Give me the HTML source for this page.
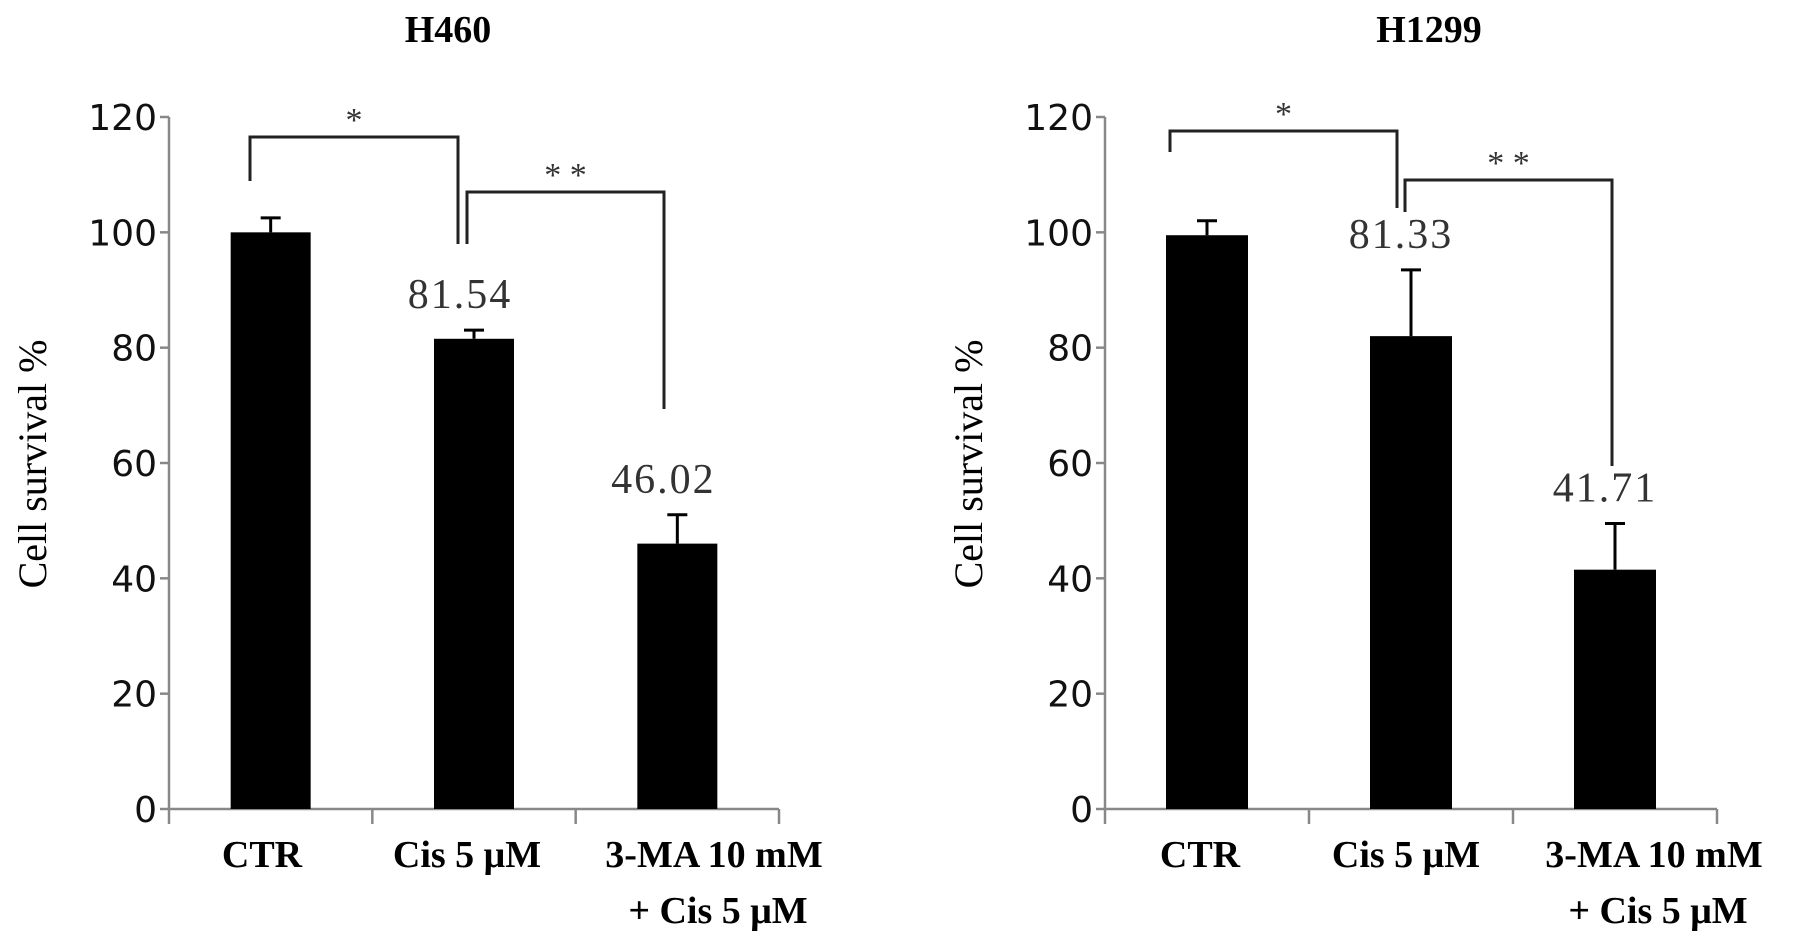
<!DOCTYPE html>
<html><head><meta charset="utf-8"><style>
html,body{margin:0;padding:0;background:#fff;width:1795px;height:948px;overflow:hidden}
svg text{font-family:"Liberation Serif",serif}
.tick{font-family:"DejaVu Sans","Liberation Sans",sans-serif;font-size:36px;fill:#111}
</style></head><body>
<svg id="chart" width="1795" height="948" viewBox="0 0 1795 948" xmlns="http://www.w3.org/2000/svg"></svg>
<script>
const categories = ["CTR", "Cis 5 μM", "3-MA 10 mM|+ Cis 5 μM"];
const yTicks = [0, 20, 40, 60, 80, 100, 120];
const h460Values = [100, 81.54, 46.02];
const h460Errors = [2.5, 1.5, 5];
const h460Labels = ["", "81.54", "46.02"];
const h1299Values = [99.5, 82, 41.5];
const h1299Errors = [2.5, 11.5, 8];
const h1299Labels = ["", "81.33", "41.71"];

const svg = document.getElementById('chart');
const NS = 'http://www.w3.org/2000/svg';
function mk(tag, attrs, parent) {
  const e = document.createElementNS(NS, tag);
  for (const k in attrs) e.setAttribute(k, attrs[k]);
  (parent || svg).appendChild(e);
  return e;
}
function panel(cfg) {
  const g = mk('g', {});
  
  
  const y = v => 809 - v * (692 / 120);
  const step = (cfg.axisEnd - cfg.x0) / 3;
  const xc = i => cfg.x0 + step * (i + 0.5);
  const t = mk('text', {x: cfg.titleX, y: 42, 'text-anchor': 'middle', 'font-size': 38, 'font-weight': 'bold'}, g);
  t.textContent = cfg.title;
  
  
  const yt = mk('text', {x: 0, y: 0, 'text-anchor': 'middle', 'font-size': 40, transform: `translate(${cfg.ytX},464) rotate(-90)`}, g);
  yt.textContent = 'Cell survival %';
  
  
  const ax = mk('path', {d: `M${cfg.x0} ${y(120)} V${y(0)} H${cfg.axisEnd}`, stroke: '#888', 'stroke-width': 2.5, fill: 'none'}, g);
  
  
  yTicks.forEach(v => {
    mk('line', {x1: cfg.x0 - 9, x2: cfg.x0, y1: y(v), y2: y(v), stroke: '#888', 'stroke-width': 2.5}, g);
    const tl = mk('text', {x: cfg.x0 - 12, y: y(v) + 13, 'text-anchor': 'end', class: 'tick'}, g);
    tl.textContent = v;
    
    
  });
  for (let i = 0; i <= 3; i++) {
    mk('line', {x1: cfg.x0 + step * i, x2: cfg.x0 + step * i, y1: y(0), y2: y(0) + 15, stroke: '#888', 'stroke-width': 2.5}, g);
  }
  cfg.values.forEach((v, i) => {
    const w = cfg.barW;
    const b = mk('rect', {x: xc(i) - w / 2, y: y(v), width: w, height: y(0) - y(v), fill: '#000'}, g);
    
    
    const top = y(v + cfg.errors[i]);
    const eb = mk('path', {d: `M${xc(i)} ${y(v)} V${top} M${xc(i) - 10} ${top} H${xc(i) + 10}`, stroke: '#000', 'stroke-width': 3, fill: 'none'}, g);
    
    
    if (cfg.labels[i]) {
      const vl = mk('text', {x: xc(i) + cfg.labelDx, y: top - cfg.labelGap, 'text-anchor': 'middle', 'font-size': 42, fill: '#333', 'letter-spacing': '2'}, g);
      vl.textContent = cfg.labels[i];
      
      
    }
    const parts = categories[i].split('|');
    parts.forEach((p, j) => {
      const cl = mk('text', {x: cfg.catX[i] + (j ? 4 : 0), y: 867 + j * 56, 'text-anchor': 'middle', 'font-size': 38, 'font-weight': 'bold'}, g);
      cl.textContent = p;
      
      
    });
  });
  cfg.brackets.forEach(br => {
    const p = mk('path', {d: `M${br[0]} ${br[2]} V${br[4]} H${br[1]} V${br[3]}`, stroke: '#222', 'stroke-width': 3, fill: 'none'}, g);
    
    
    const s = mk('text', {x: (br[0] + br[1]) / 2, y: br[4] - 6, 'text-anchor': 'middle', 'font-size': 34, fill: '#333'}, g);
    s.textContent = br[5];
    
    
  });
}
panel({name: 'h460', title: 'H460', titleX: 448, ytX: 46, x0: 169, axisEnd: 779, barW: 80,
  values: h460Values, errors: h460Errors, labels: h460Labels, labelDx: -14, labelGap: 22,
  catX: [262, 467, 714],
  brackets: [[250, 458, 181, 244, 137, '*'], [467, 664, 244, 409, 192, '* *']]});
panel({name: 'h1299', title: 'H1299', titleX: 1429, ytX: 982, x0: 1105, axisEnd: 1717, barW: 82,
  values: h1299Values, errors: h1299Errors, labels: h1299Labels, labelDx: -10, labelGap: 22,
  catX: [1200, 1406, 1654],
  brackets: [[1170, 1397, 152, 208, 131, '*'], [1405, 1612, 212, 466, 180, '* *']]});
</script>
</body></html>
